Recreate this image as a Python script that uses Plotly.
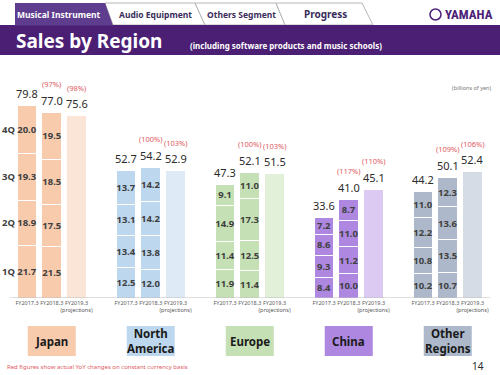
import plotly.graph_objects as go

# ---------------- data ----------------
regions = ["Japan", "North<br>America", "Europe", "China", "Other<br>Regions"]
years = ["FY2017.3", "FY2018.3", "FY2019.3<br>(projections)"]
quarters = ["1Q", "2Q", "3Q", "4Q"]

q1_fy17 = [21.7, 12.5, 11.9, 8.4, 10.2]
q2_fy17 = [18.9, 13.4, 11.4, 9.3, 10.8]
q3_fy17 = [19.3, 13.1, 14.9, 8.6, 12.2]
q4_fy17 = [20.0, 13.7, 9.1, 7.2, 11.0]
q1_fy18 = [21.5, 12.0, 11.4, 10.0, 10.7]
q2_fy18 = [17.5, 13.8, 12.5, 11.2, 13.5]
q3_fy18 = [18.5, 14.2, 17.3, 11.0, 13.6]
q4_fy18 = [19.5, 14.2, 11.0, 8.7, 12.3]

total_fy17 = [79.8, 52.7, 47.3, 33.6, 44.2]
total_fy18 = [77.0, 54.2, 52.1, 41.0, 50.1]
total_fy19 = [75.6, 52.9, 51.5, 45.1, 52.4]

yoy_fy18 = ["(97%)", "(100%)", "(100%)", "(117%)", "(109%)"]
yoy_fy19 = ["(98%)", "(103%)", "(103%)", "(110%)", "(106%)"]

# ---------------- style ----------------
W, H = 500, 375
main_colors = ["#F8CBAD", "#BDD7EE", "#C5E0B4", "#AD87E0", "#ADB9CA"]
proj_colors = ["#FBE5D6", "#DEEBF7", "#E2F0D9", "#DCCAF3", "#D6DCE5"]
FONT = "Noto Sans"
DARK = "#2B2B2B"
RED = "#E05A64"

def px(x):
    return x / W

def py(y):
    return 1 - y / H

n = len(regions)
xpos = [[4 * g + i for i in range(3)] for g in range(n)]

fig = go.Figure()

q_fy17 = [q1_fy17, q2_fy17, q3_fy17, q4_fy17]
q_fy18 = [q1_fy18, q2_fy18, q3_fy18, q4_fy18]

for qi, qname in enumerate(quarters):
    xs = [xpos[g][0] for g in range(n)] + [xpos[g][1] for g in range(n)]
    ys = q_fy17[qi] + q_fy18[qi]
    fig.add_trace(go.Bar(
        x=xs, y=ys, name=qname,
        marker=dict(color=main_colors + main_colors, line=dict(color="white", width=1)),
        text=[f"{v:.1f}" for v in ys], textposition="inside",
        insidetextanchor="middle", textangle=0, constraintext="none",
        textfont=dict(family=FONT, size=9.5, color="#404040", weight="bold"),
        width=0.8, showlegend=False, hoverinfo="skip",
    ))

fig.add_trace(go.Bar(
    x=[xpos[g][2] for g in range(n)], y=total_fy19,
    marker=dict(color=proj_colors, line=dict(color="white", width=1)),
    width=0.8, showlegend=False, hoverinfo="skip",
))

annotations = []
shapes = []

def note(x, y, text, size, color, xref="paper", yref="paper", xanchor="center", yanchor="middle",
         weight="normal", family=FONT, yshift=0):
    annotations.append(dict(x=x, y=y, xref=xref, yref=yref, text=text, showarrow=False,
                            xanchor=xanchor, yanchor=yanchor, yshift=yshift,
                            font=dict(family=family, size=size, color=color, weight=weight)))

# totals and YoY
for g in range(n):
    for i, (tot, yoy) in enumerate([(total_fy17[g], None), (total_fy18[g], yoy_fy18[g]), (total_fy19[g], yoy_fy19[g])]):
        note(xpos[g][i], tot, f"{tot:.1f}", 11, DARK, xref="x", yref="y", yshift=12)
        if yoy:
            note(xpos[g][i], tot, yoy, 7.5, RED, xref="x", yref="y", yshift=28)

# quarter labels on left, aligned with Japan FY2017.3 segments
cum = 0
for qi, qname in enumerate(quarters):
    v = q_fy17[qi][0]
    note(px(8), cum + v / 2, qname, 9.5, "#404040", yref="y", weight="bold")
    cum += v

# region label boxes
for g in range(n):
    c = xpos[g][1]
    shapes.append(dict(type="rect", xref="x", yref="paper", x0=c - 0.97, x1=c + 0.97,
                       y0=py(356), y1=py(326), fillcolor=main_colors[g], line=dict(width=0), layer="below"))
    note(c, py(341), regions[g], 11.5, "#1a1a1a", xref="x", weight="bold")

# baseline
shapes.append(dict(type="line", xref="paper", yref="y", x0=px(10), x1=px(490), y0=0, y1=0,
                   line=dict(color="#BFBFBF", width=1)))

# header: tabs, then band
tabs = [(105, 195, 205, 113), (195, 276, 285, 205), (276, 362, 373, 285)]
for a, b, c2, d in tabs:
    path = f"M {px(d)} {py(25)} L {px(a)} {py(3)} L {px(b)} {py(3)} L {px(c2)} {py(25)} Z"
    shapes.append(dict(type="path", xref="paper", yref="paper", path=path, fillcolor="white",
                       line=dict(color="#B5B5B5", width=1)))
shapes.append(dict(type="rect", xref="paper", yref="paper", x0=0, x1=1, y0=py(55), y1=py(25),
                   fillcolor="#4B1F74", line=dict(width=0)))
path1 = f"M {px(15)} {py(25.5)} L {px(15)} {py(3)} L {px(105)} {py(3)} L {px(113)} {py(25.5)} Z"
shapes.append(dict(type="path", xref="paper", yref="paper", path=path1, fillcolor="#5E3C8E",
                   line=dict(width=0)))

tab_texts = [("Musical Instrument", 59, "white", 8.5), ("Audio Equipment", 155, "#3A2D5C", 8.5),
             ("Others Segment", 241, "#3A2D5C", 8.5), ("Progress", 325, "#3A2D5C", 10)]
for t, xc, col, sz in tab_texts:
    note(px(xc), py(14.5), t, sz, col, weight="bold")

# YAMAHA logo
shapes.append(dict(type="circle", xref="paper", yref="paper", x0=px(430), x1=px(441), y0=py(20), y1=py(9),
                   line=dict(color="#4B2278", width=1.5)))
note(px(443), py(14.5), "YAMAHA", 13, "#4B2278", xanchor="left", weight="bold",
     family="Roboto Condensed, Roboto")

note(px(14), py(41), "Sales by Region", 19, "white", xanchor="left", weight="bold")
note(px(188), py(45), "(including software products and music schools)", 8, "white", xanchor="left", weight="bold")
note(px(493), py(88), "(billions of yen)", 5.5, "#777777", xanchor="right")
note(px(5), py(367), "Red figures show actual YoY changes on constant currency basis", 6, RED, xanchor="left")
note(px(486), py(366), "14", 10, DARK, xanchor="right")

tickvals = [xpos[g][i] for g in range(n) for i in range(3)]
ticktext = [years[i] for g in range(n) for i in range(3)]

fig.update_layout(
    width=W, height=H, margin=dict(l=0, r=0, t=0, b=0),
    paper_bgcolor="white", plot_bgcolor="white",
    barmode="stack", bargap=0.2,
    xaxis=dict(range=[-27 / 24.75, (W - 27) / 24.75], domain=[0, 1], tickvals=tickvals, ticktext=ticktext,
               tickangle=0, tickfont=dict(family=FONT, size=5.5, color="#595959"),
               showgrid=False, zeroline=False, showline=False, ticks=""),
    yaxis=dict(range=[0, 238 / 2.41], domain=[py(298), py(60)], visible=False),
    annotations=annotations, shapes=shapes,
)

fig.write_html("out.html", config={"displayModeBar": False},
               post_script="document.body.style.margin='0';document.body.style.overflow='hidden';")
